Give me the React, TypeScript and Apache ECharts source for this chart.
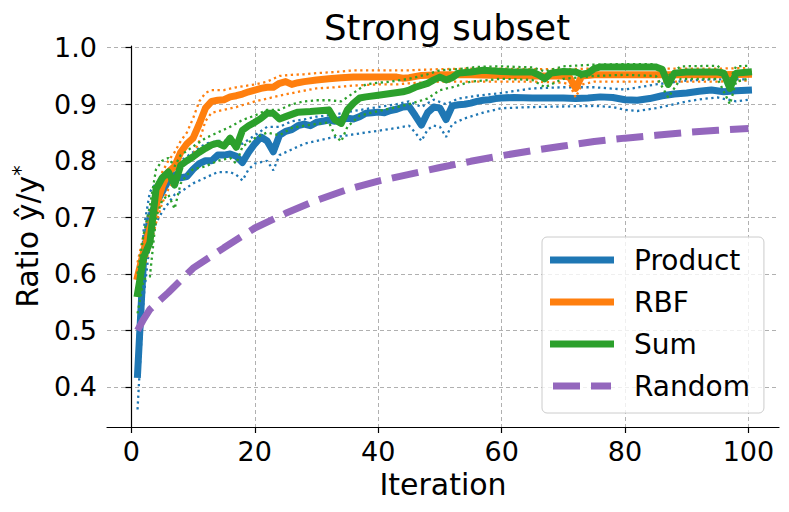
import React, { useEffect, useRef } from "react";
import * as echarts from "echarts";

const xTicks = [0, 20, 40, 60, 80, 100];
const yTicks = [0.4, 0.5, 0.6, 0.7, 0.8, 0.9, 1.0];
const legendNames = ["Product", "RBF", "Sum", "Random"];

const productMain = [[1,0.422],[2,0.63],[3,0.70],[4,0.725],[5,0.745],[6,0.765],[7,0.775],[8,0.77],[9,0.772],[10,0.785],[11,0.795],[12,0.80],[13,0.80],[14,0.81],[15,0.81],[16,0.812],[17,0.808],[18,0.797],[19,0.815],[20,0.83],[21,0.842],[22,0.835],[23,0.816],[24,0.845],[25,0.852],[26,0.855],[27,0.862],[28,0.865],[29,0.862],[30,0.868],[31,0.87],[32,0.872],[33,0.87],[34,0.873],[35,0.875],[36,0.874],[37,0.878],[38,0.884],[39,0.885],[40,0.886],[41,0.885],[42,0.889],[43,0.891],[44,0.895],[45,0.896],[46,0.88],[47,0.863],[48,0.885],[49,0.895],[50,0.893],[51,0.873],[52,0.897],[53,0.899],[54,0.90],[55,0.902],[56,0.905],[57,0.907],[58,0.908],[59,0.91],[60,0.911],[62,0.912],[65,0.911],[70,0.911],[72,0.91],[74,0.911],[76,0.913],[78,0.912],[80,0.908],[82,0.907],[84,0.91],[86,0.915],[88,0.918],[90,0.92],[92,0.923],[94,0.925],[96,0.922],[98,0.924],[100,0.925]];
const productHi = [[1,0.48],[2,0.68],[3,0.745],[4,0.76],[5,0.77],[6,0.785],[8,0.80],[10,0.815],[12,0.83],[14,0.835],[16,0.835],[18,0.83],[20,0.845],[22,0.86],[24,0.86],[26,0.87],[28,0.873],[30,0.878],[33,0.882],[36,0.888],[40,0.895],[43,0.90],[45,0.905],[47,0.895],[49,0.908],[51,0.90],[53,0.91],[56,0.915],[60,0.92],[65,0.928],[70,0.93],[75,0.93],[80,0.926],[85,0.935],[90,0.942],[95,0.944],[100,0.944]];
const productLo = [[1,0.36],[2,0.56],[3,0.655],[4,0.69],[5,0.71],[6,0.725],[7,0.74],[8,0.745],[10,0.76],[12,0.77],[14,0.78],[16,0.78],[17,0.775],[18,0.765],[19,0.785],[20,0.795],[22,0.80],[23,0.783],[24,0.81],[26,0.82],[28,0.83],[30,0.835],[32,0.84],[35,0.845],[38,0.85],[40,0.853],[43,0.858],[45,0.862],[46,0.85],[47,0.835],[48,0.855],[49,0.862],[50,0.86],[51,0.842],[52,0.865],[54,0.875],[57,0.885],[60,0.893],[65,0.895],[70,0.896],[75,0.897],[78,0.895],[80,0.89],[82,0.888],[85,0.893],[88,0.90],[90,0.905],[93,0.91],[95,0.912],[98,0.905],[100,0.908]];

const rbfMain = [[1,0.595],[2,0.64],[3,0.68],[4,0.72],[5,0.755],[6,0.78],[7,0.79],[8,0.815],[9,0.83],[10,0.84],[11,0.865],[12,0.893],[13,0.905],[14,0.907],[15,0.908],[16,0.913],[17,0.915],[18,0.918],[19,0.922],[20,0.925],[21,0.928],[22,0.93],[23,0.93],[24,0.937],[25,0.94],[26,0.935],[27,0.938],[28,0.94],[30,0.943],[32,0.945],[34,0.947],[36,0.948],[38,0.948],[40,0.948],[42,0.948],[43,0.948],[44,0.946],[45,0.947],[47,0.951],[50,0.952],[55,0.952],[60,0.951],[65,0.95],[70,0.95],[71,0.948],[72,0.928],[73,0.95],[75,0.952],[80,0.952],[85,0.952],[90,0.952],[95,0.952],[100,0.953]];
const rbfHi = [[1,0.62],[2,0.67],[3,0.71],[4,0.745],[5,0.78],[6,0.80],[7,0.815],[8,0.835],[9,0.85],[10,0.875],[11,0.905],[12,0.92],[13,0.925],[15,0.925],[17,0.93],[20,0.935],[22,0.94],[24,0.95],[26,0.952],[28,0.953],[30,0.955],[33,0.957],[36,0.96],[40,0.96],[45,0.96],[50,0.962],[55,0.963],[60,0.963],[65,0.962],[70,0.962],[75,0.963],[80,0.963],[85,0.963],[90,0.963],[95,0.963],[100,0.964]];
const rbfLo = [[1,0.57],[2,0.61],[3,0.645],[4,0.69],[5,0.725],[6,0.75],[7,0.765],[8,0.785],[9,0.80],[10,0.81],[11,0.835],[12,0.87],[13,0.885],[15,0.89],[17,0.895],[20,0.905],[22,0.91],[24,0.915],[27,0.922],[30,0.928],[33,0.93],[36,0.933],[40,0.935],[43,0.935],[45,0.937],[50,0.94],[55,0.94],[60,0.94],[65,0.94],[70,0.938],[71,0.935],[72,0.912],[73,0.935],[75,0.94],[80,0.94],[85,0.94],[90,0.94],[95,0.94],[100,0.942]];

const sumMain = [[1,0.565],[2,0.63],[3,0.655],[4,0.75],[5,0.77],[6,0.78],[7,0.757],[8,0.792],[9,0.80],[10,0.807],[11,0.815],[12,0.822],[13,0.828],[14,0.831],[15,0.826],[16,0.84],[17,0.824],[18,0.854],[19,0.862],[20,0.868],[21,0.875],[22,0.884],[23,0.884],[24,0.874],[25,0.878],[27,0.886],[29,0.887],[31,0.889],[32,0.89],[33,0.872],[34,0.866],[35,0.89],[36,0.902],[37,0.911],[38,0.913],[40,0.916],[42,0.919],[44,0.922],[45,0.925],[46,0.93],[48,0.937],[49,0.943],[50,0.948],[51,0.943],[52,0.947],[53,0.955],[55,0.957],[57,0.96],[60,0.958],[62,0.957],[65,0.957],[66,0.952],[67,0.945],[68,0.955],[70,0.958],[72,0.957],[73,0.953],[74,0.955],[75,0.963],[76,0.966],[80,0.966],[85,0.966],[86,0.962],[87,0.935],[88,0.955],[90,0.957],[95,0.957],[96,0.955],[97,0.928],[98,0.955],[100,0.957]];
const sumHi = [[1,0.60],[2,0.67],[3,0.72],[4,0.785],[5,0.80],[6,0.805],[7,0.79],[8,0.81],[10,0.825],[12,0.84],[14,0.85],[16,0.86],[18,0.872],[20,0.88],[22,0.89],[24,0.89],[26,0.90],[28,0.905],[30,0.907],[32,0.907],[34,0.905],[36,0.92],[38,0.935],[40,0.938],[42,0.94],[45,0.945],[48,0.953],[50,0.96],[53,0.962],[56,0.966],[60,0.967],[65,0.965],[67,0.958],[70,0.967],[75,0.97],[80,0.971],[85,0.971],[87,0.95],[89,0.967],[95,0.968],[97,0.945],[98,0.967],[100,0.968]];
const sumLo = [[1,0.53],[2,0.59],[3,0.595],[4,0.70],[5,0.73],[6,0.74],[7,0.715],[8,0.76],[9,0.775],[10,0.785],[12,0.79],[14,0.80],[16,0.805],[17,0.795],[18,0.825],[20,0.84],[22,0.85],[24,0.845],[26,0.858],[28,0.862],[30,0.865],[32,0.868],[33,0.845],[34,0.834],[35,0.86],[37,0.88],[40,0.888],[43,0.895],[45,0.90],[48,0.91],[50,0.925],[52,0.93],[55,0.94],[60,0.945],[65,0.943],[67,0.93],[70,0.945],[75,0.95],[80,0.952],[85,0.95],[87,0.912],[89,0.945],[95,0.945],[97,0.90],[98,0.94],[100,0.945]];

const randomMain = [[1,0.50],[2,0.52],[3,0.537],[6,0.567],[10,0.61],[15,0.646],[20,0.681],[25,0.707],[30,0.73],[35,0.749],[40,0.764],[45,0.776],[50,0.788],[55,0.799],[60,0.809],[65,0.818],[70,0.826],[75,0.834],[80,0.84],[85,0.845],[90,0.85],[95,0.854],[100,0.857]];

const C_BLUE = "#1f77b4";
const C_ORANGE = "#ff7f0e";
const C_GREEN = "#2ca02c";
const C_PURPLE = "#9467bd";

// legend glyphs in a 64x28 box (anchor moves keep the full box)
const ICON_SOLID = "path://M0,0 M64,28 M0,10.5 L64,10.5 L64,17.5 L0,17.5 Z";
const ICON_DASH = "path://M0,0 M64,28 M3,10.5 L30,10.5 L30,17.5 L3,17.5 Z M41,10.5 L61,10.5 L61,17.5 L41,17.5 Z";

function mainSeries(name: string, data: number[][], color: string) {
  return {
    type: "line",
    name,
    data,
    symbol: "none",
    showSymbol: false,
    lineStyle: { color, width: 7, cap: "square", join: "round" },
    itemStyle: { color },
  };
}
function boundSeries(name: string, data: number[][], color: string) {
  return {
    type: "line",
    name,
    data,
    symbol: "none",
    showSymbol: false,
    silent: true,
    lineStyle: { color, width: 2.3, type: [2.3, 3.5], cap: "butt" },
    itemStyle: { color },
  };
}

export default function App() {
  const ref = useRef<HTMLDivElement>(null);
  useEffect(() => {
    if (!ref.current) return;
    const chart = echarts.init(ref.current, null, { renderer: "svg" });
    const font = "DejaVu Sans";
    chart.setOption({
      animation: false,
      textStyle: { fontFamily: font },
      title: {
        text: "Strong subset",
        left: 319,
        top: 4,
        textStyle: { fontSize: 35.5, fontWeight: "normal", color: "#000", fontFamily: font },
      },
      grid: { left: 107, right: 10, top: 46, bottom: 85, containLabel: false },
      legend: {
        data: legendNames.map((n) => ({ name: n, icon: n === "Random" ? ICON_DASH : ICON_SOLID })),
        orient: "vertical",
        left: 542,
        top: 237,
        itemWidth: 64,
        itemHeight: 28,
        itemGap: 14,
        padding: [9, 14, 13, 8],
        borderColor: "#cccccc",
        borderWidth: 1,
        borderRadius: 5,
        backgroundColor: "rgba(255,255,255,0.8)",
        textStyle: { fontSize: 28, color: "#000", fontFamily: font, lineHeight: 28, padding: [0, 0, 0, 15] },
      },
      xAxis: {
        type: "value",
        min: -3.95,
        max: 104.95,
        name: "Iteration",
        nameLocation: "middle",
        nameGap: 40,
        nameTextStyle: { fontSize: 30, color: "#000", fontFamily: font },
        axisLine: { show: true, lineStyle: { color: "#000", width: 1.2 } },
        axisTick: { show: true, customValues: xTicks, length: 6, lineStyle: { color: "#000", width: 1.2 } },
        axisLabel: { customValues: xTicks, fontSize: 27, color: "#000", margin: 11, fontFamily: font },
        splitLine: { show: true, lineStyle: { color: "#b0b0b0", width: 1, type: [4, 3] } },
      },
      yAxis: {
        type: "value",
        min: 0.329,
        max: 1.003,
        name: "{a|Ratio ŷ/y}{sup|*}",
        nameLocation: "middle",
        nameGap: 62,
        nameTextStyle: {
          color: "#000",
          fontFamily: font,
          rich: {
            a: { fontSize: 30, color: "#000", fontFamily: font },
            sup: { fontSize: 21, color: "#000", fontFamily: font, padding: [0, 0, 14, 0] },
          },
        },
        axisLine: { show: true, lineStyle: { color: "#000", width: 1.2 } },
        axisTick: { show: true, customValues: yTicks, length: 6, lineStyle: { color: "#000", width: 1.2 } },
        axisLabel: {
          customValues: yTicks,
          fontSize: 27,
          color: "#000",
          margin: 10,
          fontFamily: font,
          formatter: (v: number) => v.toFixed(1),
        },
        splitLine: { show: true, lineStyle: { color: "#b0b0b0", width: 1, type: [4, 3] } },
      },
      series: [
        mainSeries("Product", productMain, C_BLUE),
        boundSeries("Product upper", productHi, C_BLUE),
        boundSeries("Product lower", productLo, C_BLUE),
        mainSeries("RBF", rbfMain, C_ORANGE),
        boundSeries("RBF upper", rbfHi, C_ORANGE),
        boundSeries("RBF lower", rbfLo, C_ORANGE),
        mainSeries("Sum", sumMain, C_GREEN),
        boundSeries("Sum upper", sumHi, C_GREEN),
        boundSeries("Sum lower", sumLo, C_GREEN),
        {
          type: "line",
          name: "Random",
          data: randomMain,
          symbol: "none",
          showSymbol: false,
          lineStyle: { color: C_PURPLE, width: 7, type: [27, 11], cap: "butt" },
          itemStyle: { color: C_PURPLE },
        },
      ],
    });
    return () => chart.dispose();
  }, []);
  return (
    <div
      ref={ref}
      style={{ position: "fixed", left: 0, top: 0, width: 789, height: 512, background: "#fff" }}
    />
  );
}
